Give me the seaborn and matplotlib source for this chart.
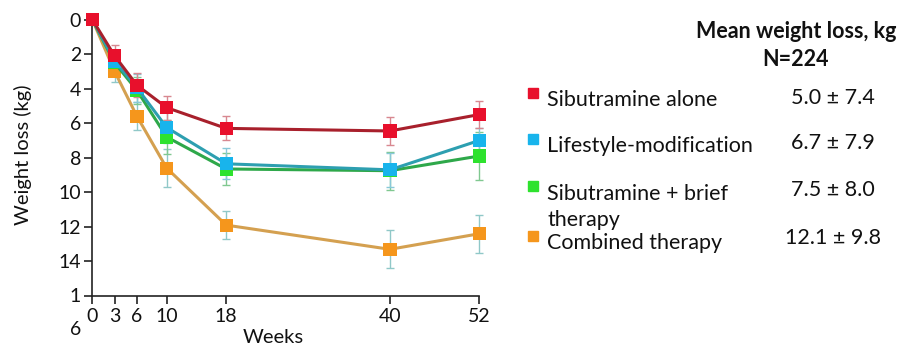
import matplotlib
matplotlib.use("Agg")
import matplotlib.pyplot as plt
import matplotlib.transforms as mtransforms
import seaborn as sns
import pandas as pd

sns.set_theme(style="white")
plt.rcParams["font.family"] = ["Lato", "DejaVu Sans"]

weeks = [0, 3, 6, 10, 18, 40, 52]
groups = ["Sibutramine alone", "Lifestyle-modification",
          "Sibutramine + brief\ntherapy", "Combined therapy"]
summary = ["5.0 \u00b1 7.4", "6.7 \u00b1 7.9", "7.5 \u00b1 8.0", "12.1 \u00b1 9.8"]

sibutramine = [0.0, 2.1, 3.8, 5.1, 6.3, 6.45, 5.5]
lifestyle = [0.0, 2.4, 3.95, 6.25, 8.35, 8.7, 7.0]
brief_therapy = [0.0, 2.5, 4.1, 6.8, 8.65, 8.75, 7.9]
combined = [0.0, 3.0, 5.6, 8.6, 11.9, 13.3, 12.4]

sibutramine_err = [0.0, 0.6, 0.7, 0.7, 0.7, 0.8, 0.8]
lifestyle_err = [0.0, 0.6, 0.8, 0.9, 0.9, 1.0, 0.7]
brief_therapy_err = [0.0, 0.6, 0.8, 1.0, 0.9, 1.1, 1.4]
combined_err = [0.0, 0.6, 0.8, 1.1, 0.8, 1.1, 1.1]

marker_colors = ["#e8102c", "#18b4ec", "#2ee22e", "#f5961c"]
line_colors = ["#a8202c", "#2d9fb0", "#2ea84a", "#d4a050"]
err_colors = ["#d88890", "#88c8d8", "#80c890", "#90c8c8"]

values = [sibutramine, lifestyle, brief_therapy, combined]
errors = [sibutramine_err, lifestyle_err, brief_therapy_err, combined_err]

frames = []
for g, v, e in zip(groups, values, errors):
    frames.append(pd.DataFrame({"week": weeks, "loss": v, "err": e, "group": g}))
df = pd.concat(frames, ignore_index=True)

fig = plt.figure(figsize=(9.04, 3.49), dpi=100)
ax = fig.add_axes([0.1021, 0.152, 0.428, 0.792])

# draw the later groups first so the earlier ones sit on top
order = list(range(len(groups)))[::-1]
for k, i in enumerate(order):
    g = groups[i]
    sub = df[df["group"] == g]
    ax.errorbar(sub["week"], sub["loss"], yerr=sub["err"], fmt="none",
                ecolor=err_colors[i], elinewidth=1.0, capsize=3, capthick=1.0,
                zorder=2, clip_on=False)
    sns.lineplot(data=sub, x="week", y="loss", color=line_colors[i],
                 linewidth=2.2, legend=False, ax=ax, zorder=3 + k,
                 estimator=None, sort=False)
    sns.scatterplot(data=sub, x="week", y="loss", color=marker_colors[i],
                    marker="s", s=90, edgecolor="none", legend=False, ax=ax,
                    zorder=3 + k)
for coll in ax.collections:
    coll.set_clip_on(False)
for ln in ax.lines:
    ln.set_clip_on(False)

ax.set_xlim(0, 52)
ax.set_ylim(16, 0)
ax.set_xticks(weeks)
ax.set_xticklabels([str(w) for w in weeks])
yt = list(range(0, 17, 2))
ax.set_yticks(yt)
ax.set_yticklabels([str(t) for t in yt[:-1]] + ["1\n6"])

for s in ["top", "right"]:
    ax.spines[s].set_visible(False)
for s in ["left", "bottom"]:
    ax.spines[s].set_color("#222222")
    ax.spines[s].set_linewidth(1.2)
ax.tick_params(axis="both", direction="out", length=6, width=1.2,
               color="#222222", labelsize=14, labelcolor="#111111",
               left=True, bottom=True, pad=2)
ax.tick_params(axis="x", pad=3)

last = ax.get_yticklabels()[-1]
last.set_verticalalignment("top")
last.set_linespacing(2.2)
last.set_transform(last.get_transform() +
                   mtransforms.ScaledTranslation(0, 6 / 72, fig.dpi_scale_trans))

ax.set_xlabel("Weeks", fontsize=14.5, color="#111111")
ax.xaxis.label.set_verticalalignment("center")
ax.xaxis.set_label_coords(0.467, -0.152)
ax.set_ylabel("Weight loss (kg)", fontsize=14.5, color="#111111")
ax.yaxis.label.set_verticalalignment("center")
ax.yaxis.set_label_coords(-0.179, 0.51)

fig.text(796 / 904, 1 - 31 / 349, "Mean weight loss, kg", ha="center",
         va="center", fontsize=15.5, fontweight="bold", color="#111111")
fig.text(796 / 904, 1 - 60 / 349, "N=224", ha="center", va="center",
         fontsize=15.5, fontweight="bold", color="#111111")

square_y = [93, 139, 186, 236]
label_y = [100, 146, 207, 243]
value_y = [98, 143, 190, 238]
for i, (g, c, sv) in enumerate(zip(groups, marker_colors, summary)):
    fig.patches.append(plt.Rectangle((528 / 904, 1 - (square_y[i] + 5) / 349),
                                     10 / 904, 10 / 349, color=c,
                                     transform=fig.transFigure, figure=fig))
    fig.text(547 / 904, 1 - label_y[i] / 349, g,
             ha="left", va="center", fontsize=15.5, color="#111111",
             linespacing=1.4)
    fig.text(833 / 904, 1 - value_y[i] / 349, sv, ha="center", va="center",
             fontsize=15.5, color="#111111")

fig.savefig("out.png", dpi=100)
